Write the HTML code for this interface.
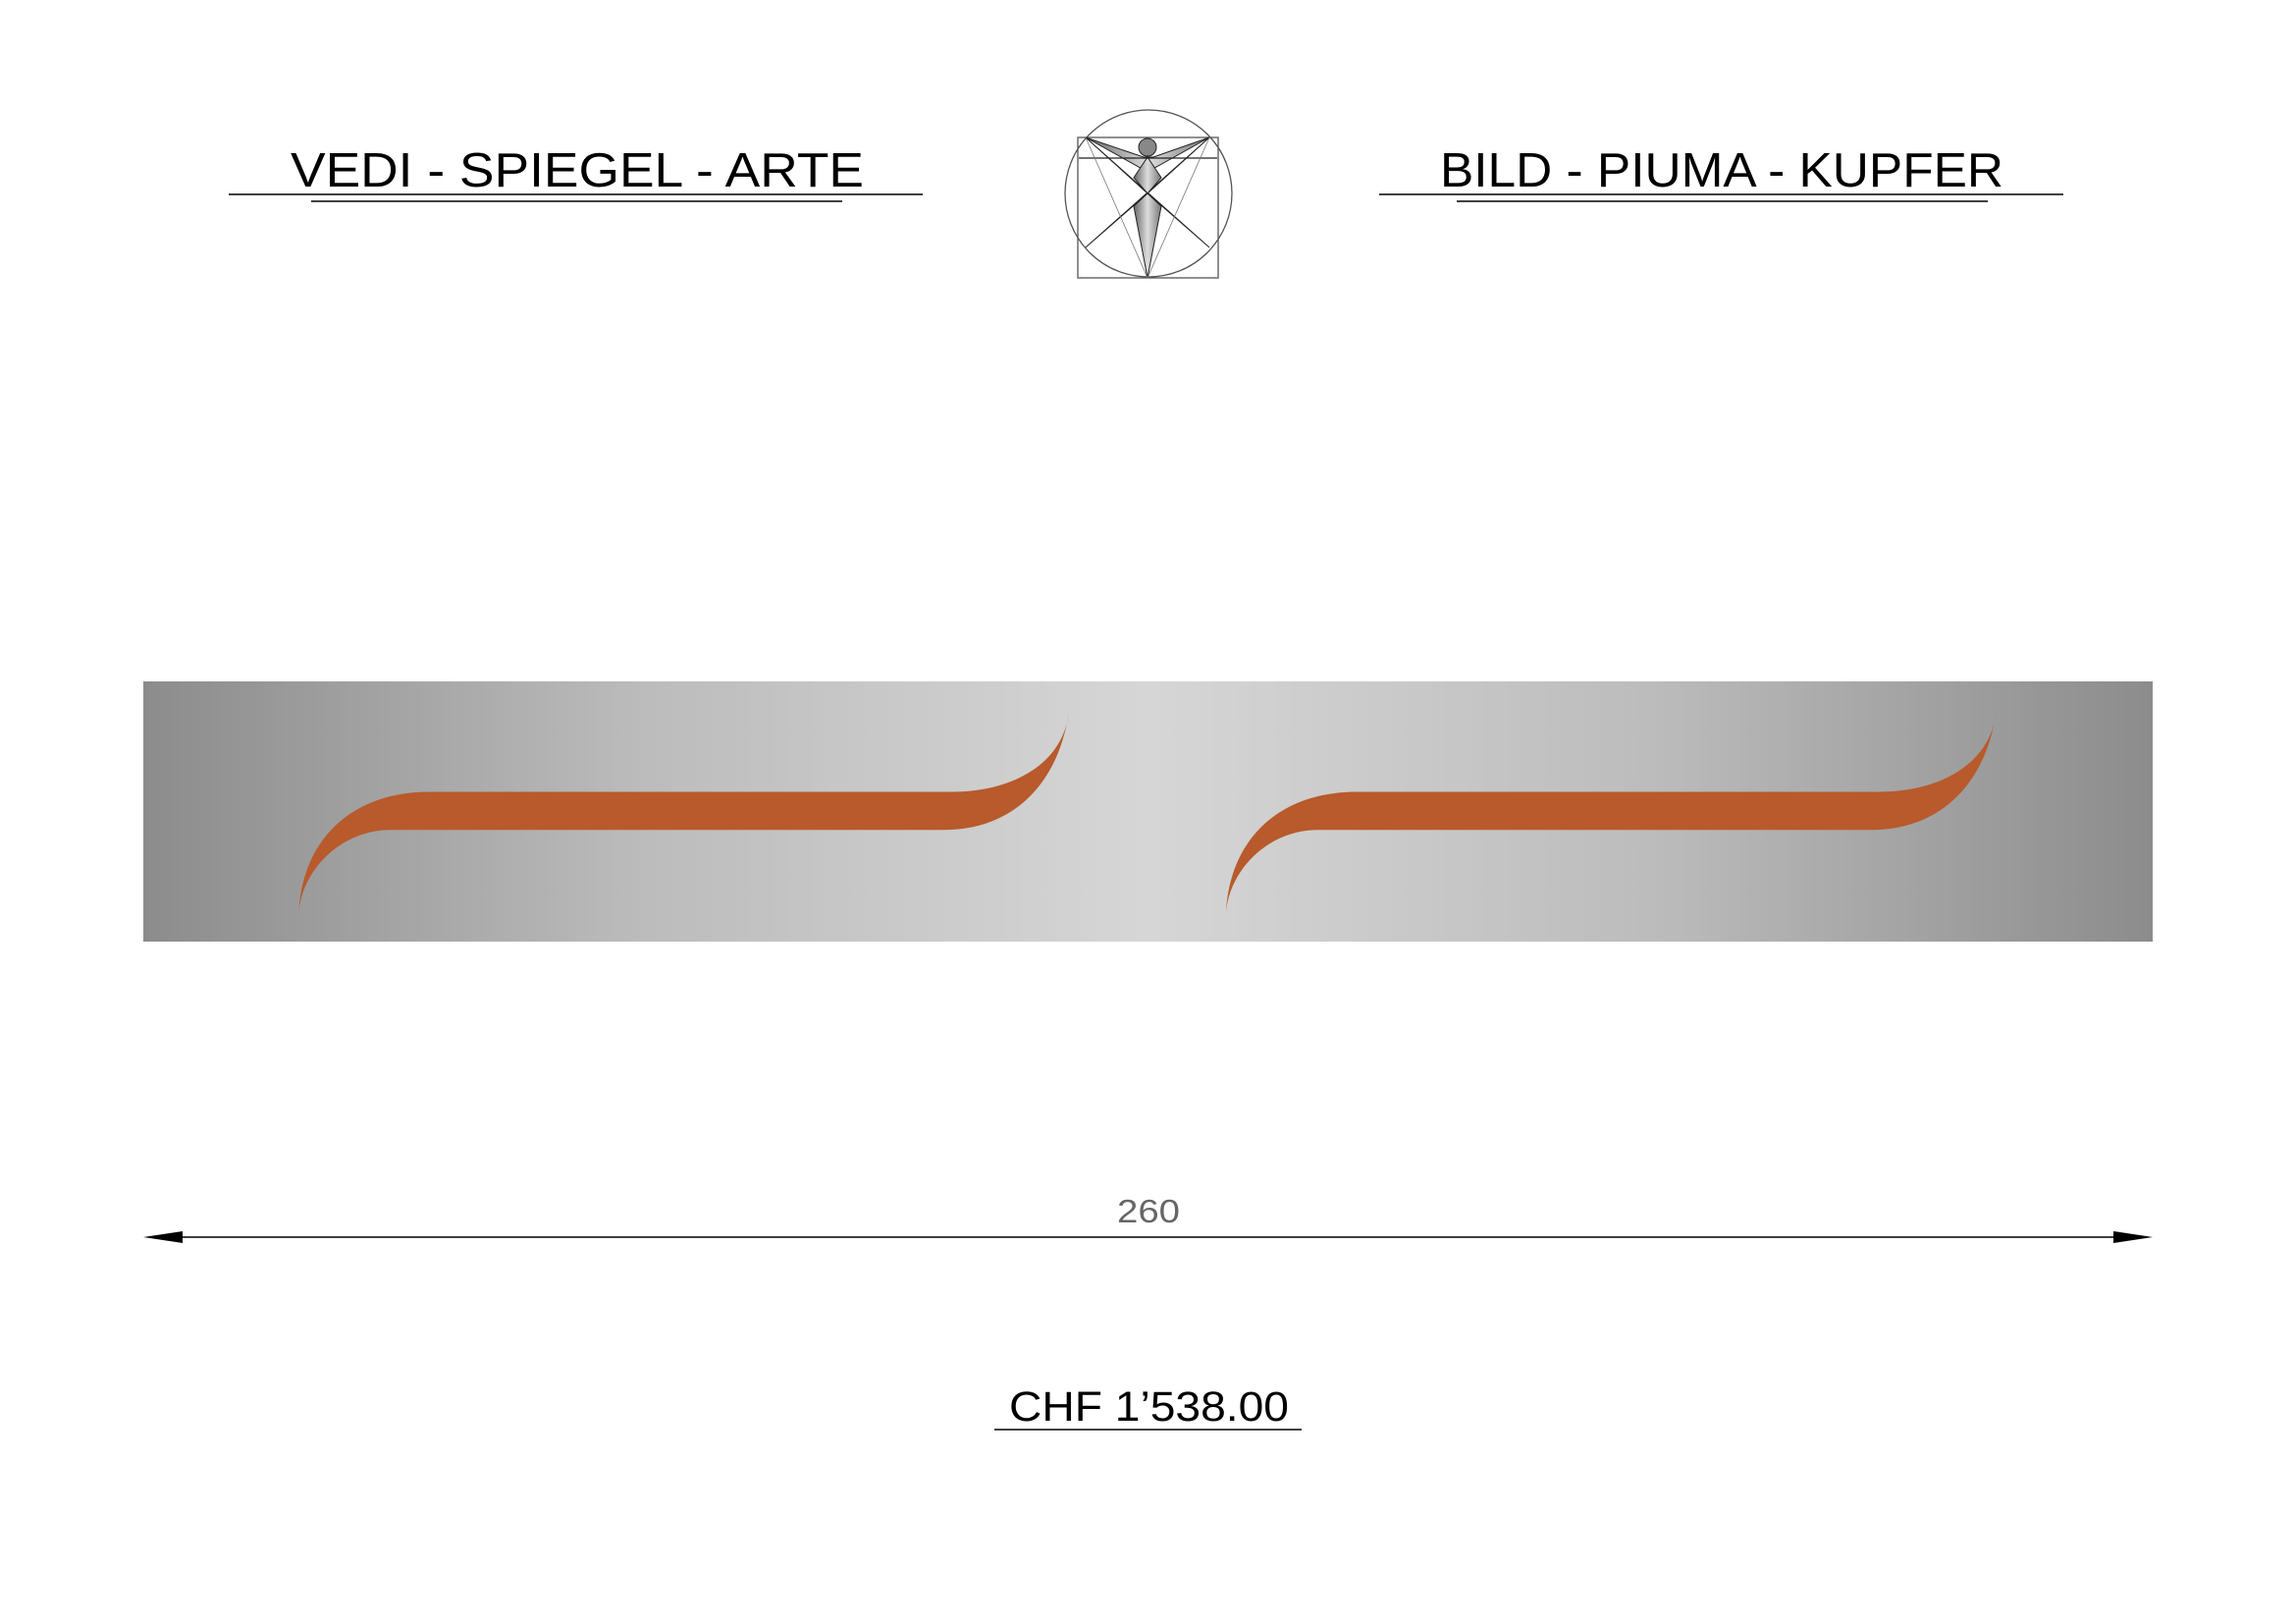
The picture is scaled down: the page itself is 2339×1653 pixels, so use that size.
<!DOCTYPE html>
<html><head><meta charset="utf-8"><style>
html,body{margin:0;padding:0;background:#fff;}
svg{display:block}
text{font-family:"Liberation Sans",sans-serif;}
</style></head><body>
<svg width="2339" height="1653" viewBox="0 0 2339 1653" xmlns="http://www.w3.org/2000/svg">
<defs>
<linearGradient id="g" x1="0" x2="1" y1="0" y2="0">
<stop offset="0" stop-color="#8c8c8c"/>
<stop offset="0.25" stop-color="#bcbcbc"/>
<stop offset="0.5" stop-color="#d6d6d6"/>
<stop offset="0.75" stop-color="#bcbcbc"/>
<stop offset="1" stop-color="#8c8c8c"/>
</linearGradient>
<linearGradient id="lg" x1="0" x2="1"><stop offset="0" stop-color="#666"/><stop offset="0.5" stop-color="#ddd"/><stop offset="1" stop-color="#777"/></linearGradient>
</defs>
<!-- titles -->
<text x="296" y="190" font-size="49" textLength="584" lengthAdjust="spacingAndGlyphs">VEDI  -  SPIEGEL  -  ARTE</text>
<line x1="233" y1="198" x2="940" y2="198" stroke="#000" stroke-width="1.5"/>
<line x1="317" y1="205" x2="858" y2="205" stroke="#000" stroke-width="1.5"/>
<text x="1467" y="190" font-size="49" textLength="574" lengthAdjust="spacingAndGlyphs">BILD  -  PIUMA  -  KUPFER</text>
<line x1="1405" y1="198" x2="2102" y2="198" stroke="#000" stroke-width="1.5"/>
<line x1="1484" y1="205" x2="2025" y2="205" stroke="#000" stroke-width="1.5"/>
<!-- logo -->
<g stroke="#555" fill="none" stroke-width="1.3">
<circle cx="1170" cy="197" r="85"/>
<rect x="1098" y="140" width="143" height="143"/>
</g>
<g fill="url(#lg)" stroke="#222" stroke-width="1">
<polygon points="1106,140 1232,252 1169,197"/>
<polygon points="1232,140 1106,252 1169,197"/>
<polygon points="1106,140 1165,160 1175,160 1232,140 1169,175"/>
<polygon points="1169,160 1183,181 1169,197 1155,181"/>
<polygon points="1169,197 1183,210 1169,283 1155,210"/>
</g>
<line x1="1099" y1="161" x2="1240" y2="161" stroke="#222" stroke-width="1.3"/>
<g stroke="#777" stroke-width="0.8"><line x1="1106" y1="140" x2="1169" y2="283"/><line x1="1232" y1="140" x2="1169" y2="283"/></g>
<circle cx="1169" cy="150" r="9" fill="#888" stroke="#222"/>
<!-- band -->
<rect x="146" y="694" width="2047" height="265" fill="url(#g)"/>
<g fill="#b85a2b" transform="scale(0.9944)">
<path d="M306,934 C310,860 360,811 440,811 L975,811 C1040,811 1090,780 1095,729 C1085,800 1040,850 967,850 L400,850 C350,850 310,890 306,934 Z"/>
<path d="M306,934 C310,860 360,811 440,811 L975,811 C1040,811 1090,780 1095,729 C1085,800 1040,850 967,850 L400,850 C350,850 310,890 306,934 Z" transform="translate(950,0)"/>
</g>
<!-- dimension -->
<line x1="170" y1="1260" x2="2172" y2="1260" stroke="#000" stroke-width="1.5"/>
<polygon points="146,1260 186,1254 186,1266" fill="#000"/>
<polygon points="2193,1260 2153,1254 2153,1266" fill="#000"/>
<text x="1170" y="1245" font-size="33" fill="#666" text-anchor="middle" textLength="64" lengthAdjust="spacingAndGlyphs">260</text>
<!-- price -->
<text x="1028" y="1447" font-size="43" textLength="285" lengthAdjust="spacingAndGlyphs">CHF  1’538.00</text>
<line x1="1013" y1="1456" x2="1326" y2="1456" stroke="#000" stroke-width="1.5"/>
</svg>
</body></html>
